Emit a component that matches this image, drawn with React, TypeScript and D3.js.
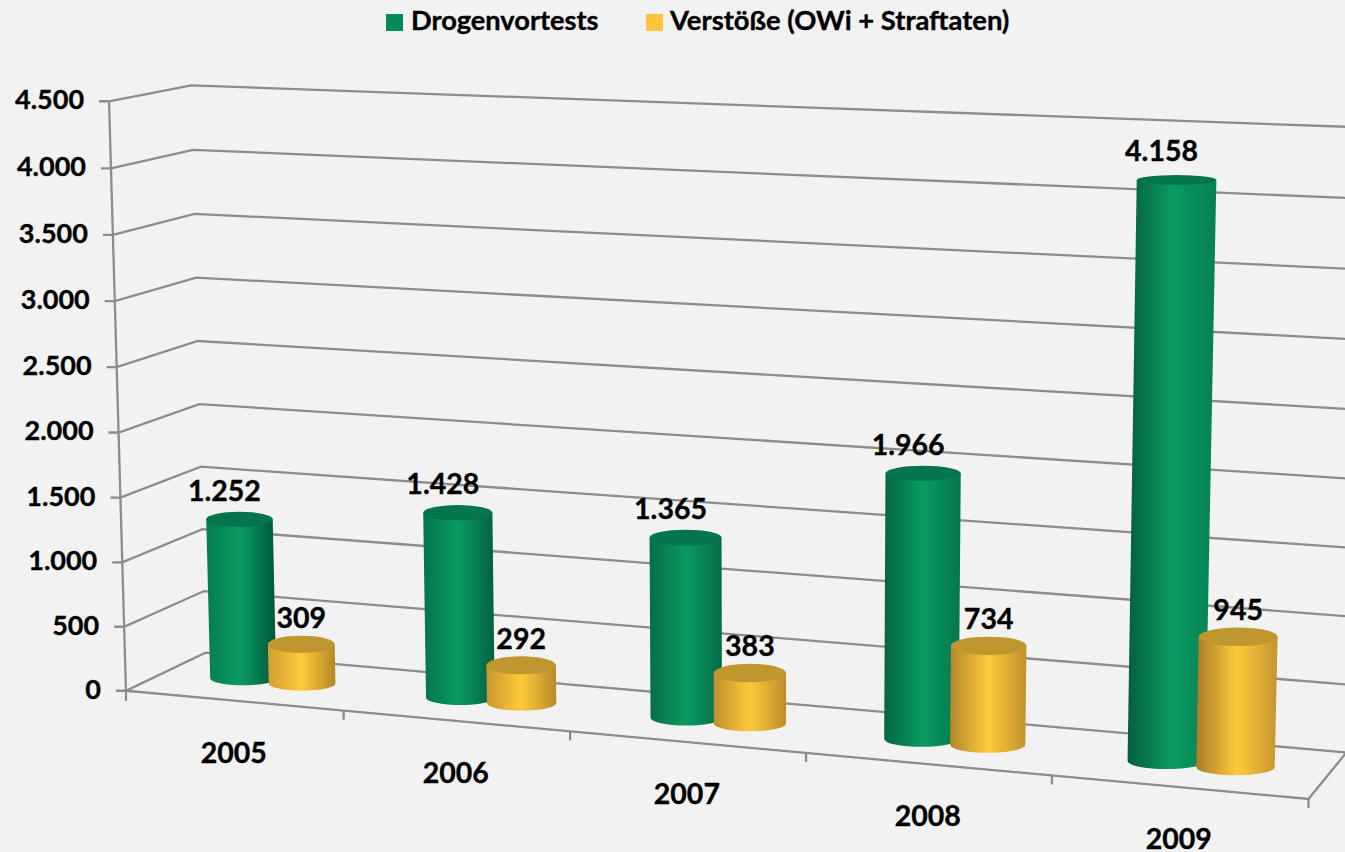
import React from "react";
import * as d3 from "d3";

const years = ["2005", "2006", "2007", "2008", "2009"];
const tests = [1252, 1428, 1365, 1966, 4158];
const violations = [309, 292, 383, 734, 945];
const valueTicks = [0, 500, 1000, 1500, 2000, 2500, 3000, 3500, 4000, 4500];
const seriesNames = ["Drogenvortests", "Verstöße (OWi + Straftaten)"];

const W = 1345, H = 852;
const BG = "#f2f2f2", GRID = "#8c8c8c";
const FONT = "Lato, Carlito, sans-serif";
const FS = 28.5;
const OFF = 0.0275;

// camera calibration: world [x 0..1, depth 0..1, height 0..1] -> screen
const CAL: [number, number, number, number, number][] = [
  [0, 0, 0, 126, 689], [0, 0, 1, 110.5, 100], [0, 1, 0, 208, 653], [0, 1, 1, 191, 85],
  [1, 0, 0, 1308, 797], [1, 1, 0, 1347, 752],
  [0.2, 0, 0, 344, 711], [0.4, 0, 0, 571, 733], [0.6, 0, 0, 806, 755], [0.8, 0, 0, 1052, 777],
  [0, 0, 1 / 3, 120, 497], [0, 1, 1 / 3, 200, 467],
  [0.1 - OFF, 0.5, 1252 / 4500, 238.5, 520], [0.1 - OFF, 0.5, 0, 241, 678],
  [0.1 + OFF, 0.5, 309 / 4500, 302, 645], [0.1 + OFF, 0.5, 0, 303, 683],
  [0.9 - OFF, 0.5, 4158 / 4500, 1176, 181], [0.9 - OFF, 0.5, 0, 1164.5, 760],
  [0.9 + OFF, 0.5, 945 / 4500, 1240.5, 636], [0.9 + OFF, 0.5, 0, 1237, 766],
  [0.5 - OFF, 0.5, 1365 / 4500, 684.5, 539], [0.5 - OFF, 0.5, 0, 683.5, 718],
  [0.5 + OFF, 0.5, 383 / 4500, 751.5, 673], [0.5 + OFF, 0.5, 0, 750.5, 723],
  [0.7 - OFF, 0.5, 1966 / 4500, 922.5, 474], [0.7 - OFF, 0.5, 0, 920, 738],
];

function solveCamera() {
  const n = 11;
  const M = Array.from({ length: n }, () => new Array(n + 1).fill(0));
  const add = (r: number[], b: number) => {
    for (let i = 0; i < n; i++) {
      for (let j = 0; j < n; j++) M[i][j] += r[i] * r[j];
      M[i][n] += r[i] * b;
    }
  };
  for (const [x, y, z, uu, vv] of CAL) {
    const u = uu / 1000, v = vv / 1000;
    add([x, y, z, 1, 0, 0, 0, 0, -u * x, -u * y, -u * z], u);
    add([0, 0, 0, 0, x, y, z, 1, -v * x, -v * y, -v * z], v);
  }
  for (let c = 0; c < n; c++) {
    let p = c;
    for (let r = c + 1; r < n; r++) if (Math.abs(M[r][c]) > Math.abs(M[p][c])) p = r;
    [M[c], M[p]] = [M[p], M[c]];
    for (let r = 0; r < n; r++) {
      if (r === c) continue;
      const f = M[r][c] / M[c][c];
      for (let k = c; k <= n; k++) M[r][k] -= f * M[c][k];
    }
  }
  return M.map((row, i) => row[n] / row[i]);
}
const P = solveCamera();
const project = (x: number, y: number, z: number): [number, number] => {
  const d = P[8] * x + P[9] * y + P[10] * z + 1;
  return [
    (1000 * (P[0] * x + P[1] * y + P[2] * z + P[3])) / d,
    (1000 * (P[4] * x + P[5] * y + P[6] * z + P[7])) / d,
  ];
};

const xScale = d3.scaleBand<string>().domain(years).range([0, 1]);
const hScale = d3.scaleLinear().domain([0, 4500]).range([0, 1]);
const offset = d3.scaleOrdinal<string, number>().domain(seriesNames).range([-OFF, OFF]);
const RX = 0.031, RZ = 0.23, BASE_RY = 0.8;
const line = d3.line();

const seriesStyles = [
  { name: seriesNames[0], values: tests, top: "#04754c", mid: "#0a9a60", leftA: "#057c50", leftB: "#045f3b", rightA: "#00563a", rightB: "#068153", sw: "#008c57", dx: -15, dy: -26 },
  { name: seriesNames[1], values: violations, top: "#c0962e", mid: "#ffca3a", leftA: "#d19f30", leftB: "#a87e28", rightA: "#b38628", rightB: "#c49430", sw: "#ffc43a", dx: 0, dy: -24 },
];

function Cylinder({ cat, i, s, si }: any) {
  const v = s.values[i];
  const cx = (xScale(cat) as number) + xScale.bandwidth() / 2 + offset(s.name);
  const ell = (val: number) => {
    const h = hScale(val);
    const [x, y] = project(cx, 0.5, h);
    const rx = (project(cx + RX, 0.5, h)[0] - project(cx - RX, 0.5, h)[0]) / 2;
    const ry = (project(cx, 0.5 - RZ, h)[1] - project(cx, 0.5 + RZ, h)[1]) / 2;
    return { x, y, rx, ry };
  };
  const t = ell(v), b = ell(0);
  const id = `g${si}-${i}`;
  const k = i / 4;
  const path = `M${t.x - t.rx},${t.y}L${b.x - b.rx},${b.y}A${b.rx},${b.ry * BASE_RY} 0 0 0 ${b.x + b.rx},${b.y}L${t.x + t.rx},${t.y}Z`;
  return (
    <g>
      <defs>
        <linearGradient id={id} x1="0" x2="1" y1="0" y2="0">
          <stop offset="0" stopColor={d3.interpolateRgb(s.leftA, s.leftB)(k)} />
          <stop offset="0.5" stopColor={s.mid} />
          <stop offset="1" stopColor={d3.interpolateRgb(s.rightA, s.rightB)(k)} />
        </linearGradient>
      </defs>
      <path d={path} fill={`url(#${id})`} />
      <ellipse cx={t.x} cy={t.y} rx={t.rx} ry={t.ry} fill={s.top} />
    </g>
  );
}

export default function App() {
  const textProps = { fontFamily: FONT, fontWeight: 700, fontSize: FS, fill: "#000", stroke: "#000", strokeWidth: 0.35 };
  return (
    <svg width={W} height={H} viewBox={`0 0 ${W} ${H}`} style={{ position: "absolute", left: 0, top: 0, background: BG, overflow: "hidden" }}>
      <rect width={W} height={H} fill={BG} />
      {/* walls */}
      <g fill="none" stroke={GRID} strokeWidth={2.3}>
        {valueTicks.map((t) => {
          const h = hScale(t);
          const a = project(0, 0, h), b = project(0, 1, h), c = project(1, 1, h);
          return <path key={t} d={line([[a[0] - 10, a[1]], a, b, c]) as string} />;
        })}
        <path d={line([project(0, 0, 1), project(0, 0, 0), [project(0, 0, 0)[0], project(0, 0, 0)[1] + 10]]) as string} />
        <path d={line([project(0, 0, 0), project(1, 0, 0), project(1, 1, 0)]) as string} />
        {d3.range(1, 6).map((k) => {
          const p = project(k / 5, 0, 0);
          return <path key={k} d={line([p, [p[0], p[1] + 9]]) as string} />;
        })}
      </g>
      {/* value axis labels */}
      {valueTicks.map((t) => {
        const a = project(0, 0, hScale(t));
        return (
          <text key={t} x={a[0] - 25} y={a[1] + 1} textAnchor="end" dominantBaseline="middle" {...textProps} fontSize={27}>
            {d3.format(",")(t).replace(",", ".")}
          </text>
        );
      })}
      {/* category labels */}
      {years.map((y) => {
        const p = project((xScale(y) as number) + xScale.bandwidth() / 2, 0, 0);
        return (
          <text key={y} x={p[0]} y={p[1] + 55} textAnchor="middle" dominantBaseline="middle" {...textProps}>
            {y}
          </text>
        );
      })}
      {/* bars */}
      {years.map((cat, i) => (
        <g key={cat}>
          {seriesStyles.map((s, si) => (
            <Cylinder key={s.name} cat={cat} i={i} s={s} si={si} />
          ))}
        </g>
      ))}
      {/* data labels */}
      {years.map((cat, i) =>
        seriesStyles.map((s) => {
          const v = s.values[i];
          const cx = (xScale(cat) as number) + xScale.bandwidth() / 2 + offset(s.name);
          const p = project(cx, 0.5, hScale(v));
          return (
            <text key={cat + s.name} x={p[0] + s.dx} y={p[1] + s.dy} textAnchor="middle" dominantBaseline="middle" {...textProps}>
              {d3.format(",")(v).replace(",", ".")}
            </text>
          );
        })
      )}
      {/* legend */}
      <rect x={386} y={14} width={17} height={17} fill={seriesStyles[0].sw} />
      <text x={411} y={23} dominantBaseline="middle" {...textProps} fontSize={27.2}>{seriesNames[0]}</text>
      <rect x={646} y={14} width={17} height={17} fill={seriesStyles[1].sw} />
      <text x={670} y={23} dominantBaseline="middle" {...textProps} fontSize={27.4}>{seriesNames[1]}</text>
    </svg>
  );
}
